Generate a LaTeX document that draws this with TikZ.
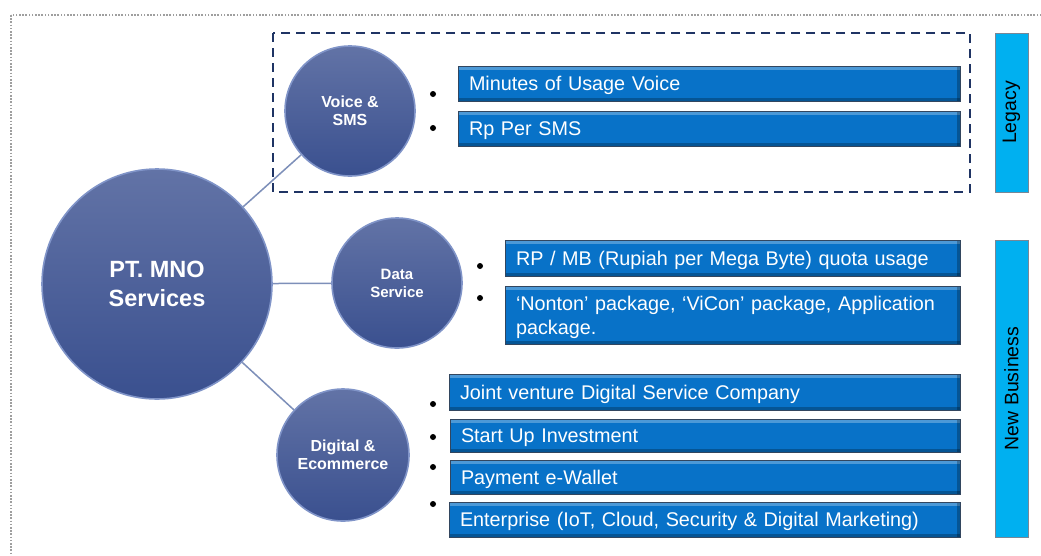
\documentclass[tikz,border=0pt]{standalone}
\usepackage{fontspec}
\setmainfont{Liberation Sans}
\begin{document}
\begin{tikzpicture}[x=1pt,y=-1pt,
  hub/.style={circle, inner sep=0pt, minimum size=#1,
    top color=circtop, bottom color=circbot,
    draw=circrim, line width=1.6pt, text=white, align=center,
    font=\bfseries\fontsize{16}{18}\selectfont},
  itembox/.style={rectangle, fill=boxfill, draw=boxedge, line width=0.9pt,
    text=white, inner xsep=11pt, inner ysep=0pt, text width=#1, align=left,
    font=\fontsize{19.8}{24}\selectfont,
    execute at end node={\vspace*{-5pt}},
    path picture={
      \fill[white,opacity=0.28] (path picture bounding box.north west) rectangle ([yshift=-3.5pt]path picture bounding box.north east);
      \fill[black,opacity=0.25] (path picture bounding box.south west) rectangle ([yshift=3pt]path picture bounding box.south east);
      \fill[black,opacity=0.25] (path picture bounding box.north east) rectangle ([xshift=-3pt]path picture bounding box.south east);
    }},
  dot/.style={circle, fill=black, inner sep=0pt, minimum size=6pt},
  sidebar/.style={rectangle, fill=barfill, draw=baredge, line width=0.8pt,
    inner sep=0pt, minimum width=33pt, font=\fontsize{19.5}{23}\selectfont},
  link/.style={draw=linkcol, line width=1.5pt}
]
\definecolor{circtop}{RGB}{98,115,166}
\definecolor{circbot}{RGB}{58,80,143}
\definecolor{circrim}{RGB}{128,148,200}
\definecolor{boxfill}{RGB}{8,114,200}
\definecolor{boxedge}{RGB}{50,70,95}
\definecolor{barfill}{RGB}{0,176,240}
\definecolor{baredge}{RGB}{120,135,150}
\definecolor{linkcol}{RGB}{125,143,185}
\definecolor{navy}{RGB}{31,52,100}

\useasboundingbox (0,0) rectangle (1041,555);
\fill[white] (0,0) rectangle (1041,555);
\clip (0,0) rectangle (1041,555);

% outer dotted frame
\draw[gray!75, line width=1.6pt, dash pattern=on 1.6pt off 1.6pt] (11,15) rectangle (1070,580);

% legacy group frame
\draw[navy, line width=2.2pt, dash pattern=on 9pt off 6pt] (273,33) rectangle (970,192);

% side labels
\node[sidebar, minimum height=159pt] (legacy) at (1011.5,112.5) {\rotatebox{90}{Legacy}};
\node[sidebar, minimum height=297pt] (newbiz) at (1011.5,388.5) {\rotatebox{90}{New Business}};

% service circles
\node[hub=230pt, font=\bfseries\fontsize{23.5}{29}\selectfont] (pt) at (157,284) {PT. MNO\\Services};
\node[hub=130pt] (voice) at (350,111) {Voice \&\\SMS};
\node[hub=130pt, font=\bfseries\fontsize{15}{18}\selectfont] (data) at (397,283) {Data\\Service};
\node[hub=132pt] (digi) at (343,455) {Digital \&\\Ecommerce};

% connectors
\draw[link] (pt) -- (voice);
\draw[link] (pt) -- (data);
\draw[link] (pt) -- (digi);

% voice & sms items
\node[itembox=480pt, minimum height=35pt] (m1) at (709,83.5) {Minutes of Usage Voice};
\node[itembox=480pt, minimum height=35pt] (m2) at (709,128.5) {Rp Per SMS};
\node[dot] (bm1) at (433,94) {};
\node[dot] (bm2) at (433,128) {};

% data items
\node[itembox=433pt, minimum height=36pt] (d1) at (732.5,258) {RP / MB (Rupiah per Mega Byte) quota usage};
\node[itembox=433pt, minimum height=58pt] (d2) at (732.5,315) {‘Nonton’ package, ‘ViCon’ package, Application\\package.};
\node[dot] (bd1) at (480,266) {};
\node[dot] (bd2) at (480,298) {};

% digital items
\node[itembox=489pt, minimum height=36pt] (e1) at (704.5,392) {Joint venture Digital Service Company};
\node[itembox=488pt, minimum height=33pt] (e2) at (705,435.5) {Start Up Investment};
\node[itembox=488pt, minimum height=34pt] (e3) at (705,477) {Payment e-Wallet};
\node[itembox=489pt, minimum height=35pt] (e4) at (704.5,519.5) {Enterprise (IoT, Cloud, Security \& Digital Marketing)};
\node[dot] (be1) at (433,404) {};
\node[dot] (be2) at (433,437) {};
\node[dot] (be3) at (433,467) {};
\node[dot] (be4) at (433,504) {};
\end{tikzpicture}
\end{document}
